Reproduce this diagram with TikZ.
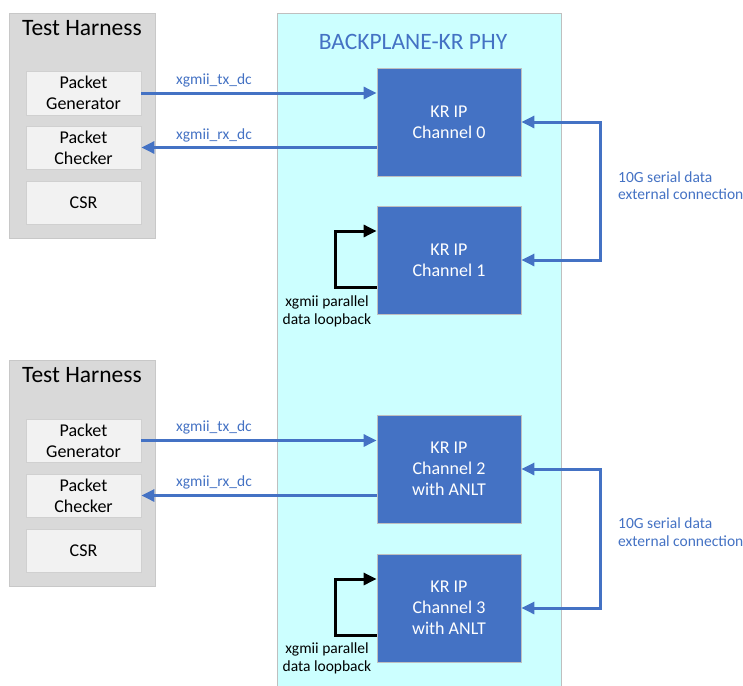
\documentclass[tikz,border=0pt]{standalone}
\usepackage{fontspec}
\setmainfont{Carlito}
\usetikzlibrary{arrows.meta}
\definecolor{kblue}{HTML}{4472C4}
\definecolor{hgray}{HTML}{D9D9D9}
\definecolor{hborder}{HTML}{C8C8C8}
\definecolor{ifill}{HTML}{F2F2F2}
\definecolor{iborder}{HTML}{D0D0D0}
\definecolor{bpfill}{HTML}{CCFFFF}
\definecolor{bpborder}{HTML}{BFBFBF}
\begin{document}
\begin{tikzpicture}[x=1pt,y=-1pt,
  harness/.style={draw=hborder,fill=hgray,line width=0.8pt,minimum width=146pt,minimum height=225pt,inner sep=0pt},
  htitle/.style={font=\fontsize{23.5}{26}\selectfont,text=black,inner sep=0pt},
  inbox/.style={draw=iborder,fill=ifill,line width=0.8pt,minimum width=115pt,minimum height=43pt,inner sep=0pt,align=center,font=\fontsize{18}{21}\selectfont},
  chbox/.style={draw=bpborder,fill=kblue,line width=0.8pt,minimum width=144pt,minimum height=108pt,inner sep=0pt,align=center,text=white,font=\fontsize{18}{21}\selectfont},
  sig/.style={draw=kblue,line width=3pt,-{Triangle[length=13pt,width=12pt]}},
  loop/.style={draw=black,line width=3pt,-{Triangle[length=13pt,width=12pt]}},
  blab/.style={text=kblue,font=\fontsize{15.5}{17.5}\selectfont,inner sep=0pt,align=center},
  klab/.style={text=black,font=\fontsize{15.5}{18}\selectfont,inner sep=0pt,align=center},
  extlab/.style={text=kblue,font=\fontsize{15.5}{17.5}\selectfont,inner sep=0pt,align=left,anchor=west}
]
\useasboundingbox (0,0) rectangle (743,685);
\fill[white] (0,0) rectangle (743,685);

% Backplane
\node[draw=bpborder,fill=bpfill,line width=0.8pt,minimum width=284pt,minimum height=675pt,inner sep=0pt,anchor=north west] (bp) at (277,13) {};
\node[text=kblue,font=\fontsize{23.5}{26}\selectfont,inner sep=0pt] (bptitle) at (413,42) {BACKPLANE-KR PHY};

% Harness 1
\node[harness] (th1) at (82,125.5) {};
\node[htitle] (th1t) at (82,28) {Test Harness};
\node[inbox,minimum height=44pt] (pg1) at (83.5,93) {Packet\\Generator};
\node[inbox] (pc1) at (83.5,147.5) {Packet\\Checker};
\node[inbox] (csr1) at (83.5,202.5) {CSR};

% Harness 2
\node[harness,minimum height=226pt] (th2) at (82,473) {};
\node[htitle] (th2t) at (82,375) {Test Harness};
\node[inbox] (pg2) at (83.5,440.5) {Packet\\Generator};
\node[inbox] (pc2) at (83.5,495.5) {Packet\\Checker};
\node[inbox] (csr2) at (83.5,550.5) {CSR};

% Channels
\node[chbox] (ch0) at (449,122) {KR IP\\Channel 0};
\node[chbox] (ch1) at (449,260) {KR IP\\Channel 1};
\node[chbox] (ch2) at (449,469) {KR IP\\Channel 2\\with ANLT};
\node[chbox] (ch3) at (449,608) {KR IP\\Channel 3\\with ANLT};

% tx/rx top
\draw[sig] (pg1.east) -- (pg1.east -| ch0.west);
\draw[sig] (pc1.east -| ch0.west) -- (pc1.east);
\node[blab] (tx1) at (214,80) {xgmii\_tx\_dc};
\node[blab] (rx1) at (214,135) {xgmii\_rx\_dc};

% tx/rx bottom
\draw[sig] (pg2.east) -- (pg2.east -| ch2.west);
\draw[sig] (pc2.east -| ch2.west) -- (pc2.east);
\node[blab] (tx2) at (214,427) {xgmii\_tx\_dc};
\node[blab] (rx2) at (214,482) {xgmii\_rx\_dc};

% external connections
\coordinate (e0) at (600,122);
\coordinate (e1) at (600,260);
\draw[sig] (e1) -- (e0) -- (ch0.east);
\draw[sig] (e0) -- (e1) -- (ch1.east);
\node[extlab] (ext1) at (618,185.5) {10G serial data\\external connection};

\coordinate (e2) at (600,469);
\coordinate (e3) at (600,608);
\draw[sig] (e3) -- (e2) -- (ch2.east);
\draw[sig] (e2) -- (e3) -- (ch3.east);
\node[extlab] (ext2) at (618,532) {10G serial data\\external connection};

% loopbacks
\coordinate (l1a) at (335,287);
\coordinate (l1b) at (335,231);
\draw[loop] (ch1.west |- l1a) -- (l1a) -- (l1b) -- (ch1.west |- l1b);
\node[klab] (lb1) at (327,311) {xgmii parallel\\data loopback};

\coordinate (l3a) at (335,635);
\coordinate (l3b) at (335,579);
\draw[loop] (ch3.west |- l3a) -- (l3a) -- (l3b) -- (ch3.west |- l3b);
\node[klab] (lb3) at (327,658.5) {xgmii parallel\\data loopback};
\end{tikzpicture}
\end{document}
